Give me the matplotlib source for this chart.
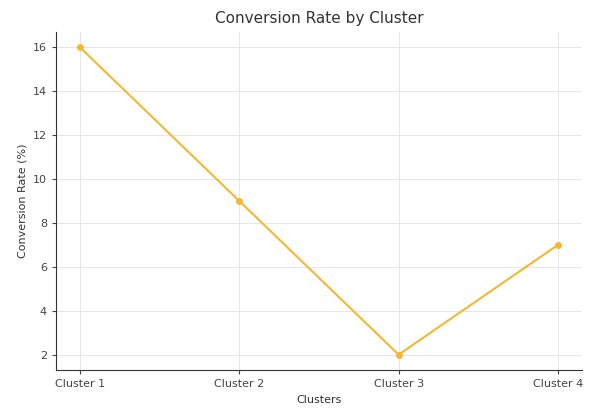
import matplotlib
matplotlib.use("Agg")
import matplotlib.pyplot as plt

# conversion rate per cluster
clusters = ['Cluster 1', 'Cluster 2', 'Cluster 3', 'Cluster 4']
rates = [16, 9, 2, 7]

fig = plt.figure(figsize=(5.89, 4.08), dpi=100)
ax = fig.add_axes([0.095, 0.093, 0.893, 0.829])

ax.plot(clusters, rates, marker='o', markersize=4, color='#F5B731', linewidth=1.5)

ax.set_title('Conversion Rate by Cluster', fontsize=11, color='#333333')
ax.set_xlabel('Clusters', fontsize=8, color='#333333')
ax.set_ylabel('Conversion Rate (%)', fontsize=8, color='#333333')
ax.tick_params(labelsize=8, colors='#444444', length=3)
ax.set_yticks([2, 4, 6, 8, 10, 12, 14, 16])
ax.grid(True, color='#e6e6e6', linewidth=0.7)
ax.spines['top'].set_visible(False)
ax.spines['right'].set_visible(False)
ax.spines['left'].set_color('#333333')
ax.spines['bottom'].set_color('#333333')

fig.savefig('out.png', dpi=100)
